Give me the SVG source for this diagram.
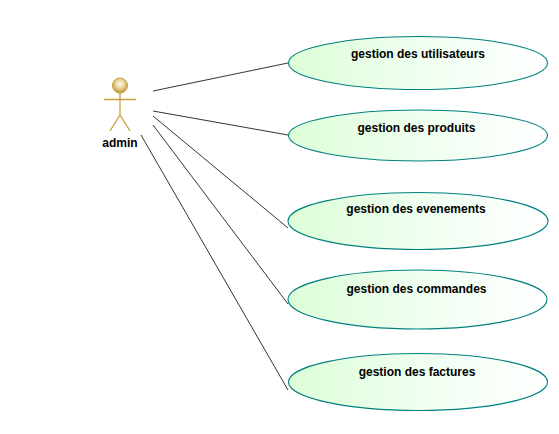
<svg xmlns="http://www.w3.org/2000/svg" width="559" height="434" viewBox="0 0 559 434">
<style>
.uc{fill:url(#ucg);stroke:#008080;stroke-width:1.1}
.lbl{font-family:"Liberation Sans",Arial,sans-serif;font-size:12px;font-weight:bold;fill:#000;text-anchor:middle}
.act{fill:none;stroke:#c8a03c;stroke-width:1.3}
.con{fill:none;stroke:#000;stroke-width:.8}
</style>
<defs>
<linearGradient id="ucg" x1="0" x2="1" y1="0" y2="0"><stop offset="0" stop-color="#dcfdd6"/><stop offset=".5" stop-color="#effff0"/><stop offset="1" stop-color="#ffffff"/></linearGradient>
<radialGradient id="head" cx=".5" cy=".4" r=".6"><stop offset="0" stop-color="#fffbee"/><stop offset=".5" stop-color="#e8d49c"/><stop offset="1" stop-color="#b8902c"/></radialGradient>
</defs>
<rect width="559" height="434" fill="#fff"/>
<g id="connectors">
<path class="con" d="M153 91L288 63"/>
<path class="con" d="M153 111L288 135"/>
<path class="con" d="M153 116L288 228"/>
<path class="con" d="M153 125L288 304"/>
<path class="con" d="M141 135L288 390"/>
</g>
<g id="admin">
<circle cx="120" cy="85.500" r="7.500" fill="url(#head)" stroke="#c8a03c" stroke-width="1"/>
<path class="act" d="M120 93V115M104 99.500H136M110 131L120 115L130 131"/>
<text class="lbl" x="120" y="147">admin</text>
</g>
<g id="uc1"><ellipse class="uc" cx="418" cy="63" rx="129.500" ry="26.500"/><text class="lbl" x="418" y="58">gestion des utilisateurs</text></g>
<g id="uc2"><ellipse class="uc" cx="418" cy="135.500" rx="129.500" ry="25.500"/><text class="lbl" x="416.500" y="132">gestion des produits</text></g>
<g id="uc3"><ellipse class="uc" cx="418" cy="221" rx="130" ry="28.500"/><text class="lbl" x="416" y="213">gestion des evenements</text></g>
<g id="uc4"><ellipse class="uc" cx="417.500" cy="299.500" rx="129.500" ry="29.500"/><text class="lbl" x="416.500" y="293">gestion des commandes</text></g>
<g id="uc5"><ellipse class="uc" cx="418" cy="382" rx="129.500" ry="28.500"/><text class="lbl" x="417" y="376">gestion des factures</text></g>
</svg>
